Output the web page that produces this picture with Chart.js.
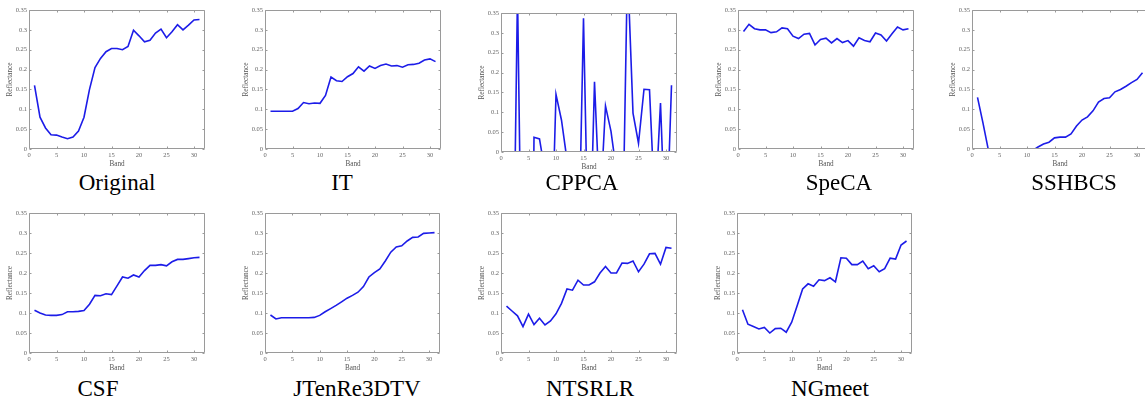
<!DOCTYPE html>
<html>
<head>
<meta charset="utf-8">
<title>Reflectance spectra</title>
<script src="https://cdn.jsdelivr.net/npm/chart.js@4.4.1/dist/chart.umd.min.js"></script>
<style>
  html, body { margin: 0; padding: 0; background: #fff; }
  body { position: relative; width: 1145px; height: 403px; overflow: hidden; }
  canvas.panel { position: absolute; }
  .cap {
    position: absolute;
    font-family: 'Liberation Serif', 'DejaVu Serif', serif;
    font-size: 23px;
    line-height: 1;
    color: #000;
    white-space: nowrap;
    transform: translate(-50%, -50%);
  }
</style>
</head>
<body>
<script>
// Spectral bands and reflectance per reconstruction method
const bands = [1,2,3,4,5,6,7,8,9,10,11,12,13,14,15,16,17,18,19,20,21,22,23,24,25,26,27,28,29,30,31];

const original = [0.160,0.080,0.053,0.036,0.035,0.030,0.026,0.030,0.045,0.080,0.150,0.205,0.228,0.245,0.253,
                  0.253,0.250,0.258,0.299,0.285,0.270,0.274,0.292,0.302,0.280,0.295,0.313,0.300,0.312,0.325,0.326];
const it       = [0.095,0.095,0.095,0.095,0.095,0.102,0.117,0.114,0.116,0.115,0.135,0.181,0.172,0.170,0.182,
                  0.190,0.207,0.196,0.209,0.203,0.210,0.214,0.209,0.210,0.206,0.212,0.213,0.216,0.224,0.227,0.220];
const cppca    = [-0.50,-0.60,0.40,-0.60,-1.50,0.037,0.033,-0.05,-0.34,0.145,0.080,-0.02,-0.20,-0.337,0.337,
                  -0.35,0.177,-0.15,0.116,0.052,-0.05,-0.31,0.47,0.098,0.022,0.158,0.157,-0.15,0.123,-0.25,0.168];
const speca    = [0.296,0.314,0.303,0.300,0.300,0.293,0.295,0.305,0.303,0.284,0.278,0.289,0.291,0.262,0.276,
                  0.279,0.267,0.278,0.268,0.273,0.259,0.280,0.273,0.270,0.292,0.287,0.272,0.290,0.307,0.300,0.303];
const sshbcs   = [0.130,0.065,-0.004,-0.08,-0.12,-0.10,-0.13,-0.09,-0.11,-0.07,-0.004,0.005,0.0126,0.017,0.028,
                  0.030,0.030,0.038,0.058,0.073,0.081,0.096,0.118,0.127,0.129,0.144,0.150,0.158,0.167,0.175,0.192];
const csf      = [0.107,0.100,0.095,0.094,0.094,0.096,0.103,0.103,0.104,0.106,0.122,0.144,0.143,0.148,0.146,
                  0.168,0.190,0.187,0.195,0.190,0.206,0.219,0.219,0.221,0.218,0.228,0.234,0.234,0.236,0.238,0.239];
const jtenre   = [0.095,0.085,0.088,0.088,0.088,0.088,0.088,0.088,0.089,0.094,0.103,0.111,0.119,0.128,0.137,
                  0.144,0.152,0.166,0.190,0.201,0.210,0.230,0.252,0.265,0.268,0.280,0.289,0.290,0.299,0.300,0.301];
const ntsrlr   = [0.117,0.105,0.093,0.066,0.097,0.071,0.087,0.070,0.080,0.098,0.124,0.160,0.157,0.182,0.170,
                  0.170,0.178,0.200,0.216,0.200,0.200,0.225,0.224,0.230,0.203,0.222,0.248,0.249,0.222,0.264,0.262];
const ngmeet   = [0.108,0.072,0.066,0.060,0.064,0.050,0.061,0.062,0.052,0.077,0.118,0.160,0.173,0.167,0.183,
                  0.181,0.188,0.178,0.238,0.237,0.221,0.221,0.230,0.211,0.218,0.203,0.211,0.237,0.235,0.270,0.280];

const xTicks = [0,5,10,15,20,25,30];
const yTicks = [0,0.05,0.1,0.15,0.2,0.25,0.3,0.35];
const xLabel = 'Band';
const yLabel = 'Reflectance';

// Panel placement: plot rectangle [left, top, right, bottom] and caption centre
const panels = [
  { name: 'Original',   values: original, plot: [29, 10, 205, 149],   cap: [117, 182] },
  { name: 'IT',         values: it,       plot: [265, 10, 441, 149],  cap: [342, 182] },
  { name: 'CPPCA',      values: cppca,    plot: [501, 13, 677, 152],  cap: [582, 182] },
  { name: 'SpeCA',      values: speca,    plot: [738, 10, 914, 149],  cap: [839, 182] },
  { name: 'SSHBCS',     values: sshbcs,   plot: [972, 10, 1148, 149], cap: [1074, 182] },
  { name: 'CSF',        values: csf,      plot: [29, 213, 205, 353],  cap: [98, 388] },
  { name: 'JTenRe3DTV', values: jtenre,   plot: [265, 213, 440, 353], cap: [357, 388] },
  { name: 'NTSRLR',     values: ntsrlr,   plot: [501, 213, 677, 353], cap: [590, 388] },
  { name: 'NGmeet',     values: ngmeet,   plot: [737, 213, 912, 353], cap: [830, 388] }
];

const Y_W = 28, X_H = 20, PAD_T = 6, PAD_R = 5;
const SERIF = "'Liberation Serif', 'DejaVu Serif', serif";
const AXIS_GREY = '#9a9a9a';

// Box around the plot with short inward tick marks on all four sides
const frame = {
  id: 'frame',
  afterDatasetsDraw(chart) {
    const { ctx, chartArea: a, scales: { x, y } } = chart;
    const L = Math.round(a.left) + 0.5, R = Math.round(a.right) - 0.5;
    const T = Math.round(a.top) + 0.5, B = Math.round(a.bottom) - 0.5;
    const len = 2;
    ctx.save();
    ctx.strokeStyle = AXIS_GREY;
    ctx.lineWidth = 1;
    ctx.beginPath();
    ctx.rect(L, T, R - L, B - T);
    xTicks.forEach(v => {
      const px = Math.round(x.getPixelForValue(v)) + 0.5;
      ctx.moveTo(px, B); ctx.lineTo(px, B - len);
      ctx.moveTo(px, T); ctx.lineTo(px, T + len);
    });
    yTicks.forEach(v => {
      const py = Math.round(y.getPixelForValue(v)) + 0.5;
      ctx.moveTo(L, py); ctx.lineTo(L + len, py);
      ctx.moveTo(R, py); ctx.lineTo(R - len, py);
    });
    ctx.stroke();
    ctx.restore();
  }
};

panels.forEach(p => {
  const [l, t, r, b] = p.plot;
  const cv = document.createElement('canvas');
  cv.className = 'panel';
  const w = (r - l) + Y_W + PAD_R;
  const h = (b - t) + PAD_T + X_H;
  cv.width = w; cv.height = h;
  cv.style.left = (l - Y_W) + 'px';
  cv.style.top = (t - PAD_T) + 'px';
  cv.style.width = w + 'px';
  cv.style.height = h + 'px';
  document.body.appendChild(cv);

  const cap = document.createElement('div');
  cap.className = 'cap';
  cap.textContent = p.name;
  cap.style.left = p.cap[0] + 'px';
  cap.style.top = p.cap[1] + 'px';
  document.body.appendChild(cap);

  new Chart(cv, {
    type: 'line',
    data: {
      datasets: [{
        data: bands.map((bd, i) => ({ x: bd, y: p.values[i] })),
        borderColor: '#1c1ce8',
        borderWidth: 1.6,
        pointRadius: 0,
        tension: 0,
        fill: false,
        clip: 0
      }]
    },
    options: {
      responsive: false,
      animation: false,
      devicePixelRatio: 1,
      layout: { padding: { top: PAD_T, right: PAD_R, left: 0, bottom: 0 } },
      plugins: { legend: { display: false }, tooltip: { enabled: false } },
      scales: {
        x: {
          type: 'linear', min: 0, max: 32,
          grid: { display: false, drawTicks: false },
          border: { display: false },
          afterBuildTicks: s => { s.ticks = xTicks.map(v => ({ value: v })); },
          afterFit: s => { s.height = X_H; },
          ticks: { padding: 2, autoSkip: false, maxRotation: 0, color: '#666',
                   font: { family: SERIF, size: 6.5 } },
          title: { display: true, text: xLabel, color: '#555',
                   font: { family: SERIF, size: 7.2 }, padding: { top: 0, bottom: 1 } }
        },
        y: {
          type: 'linear', min: 0, max: 0.35,
          grid: { display: false, drawTicks: false },
          border: { display: false },
          afterBuildTicks: s => { s.ticks = yTicks.map(v => ({ value: v })); },
          afterFit: s => { s.width = Y_W; },
          ticks: { padding: 2, autoSkip: false, color: '#666',
                   font: { family: SERIF, size: 6.5 },
                   callback: v => String(+Number(v).toFixed(2)) },
          title: { display: true, text: yLabel, color: '#555',
                   font: { family: SERIF, size: 7.2 }, padding: { top: 4.5, bottom: 0 } }
        }
      }
    },
    plugins: [frame]
  });
});
</script>
</body>
</html>
